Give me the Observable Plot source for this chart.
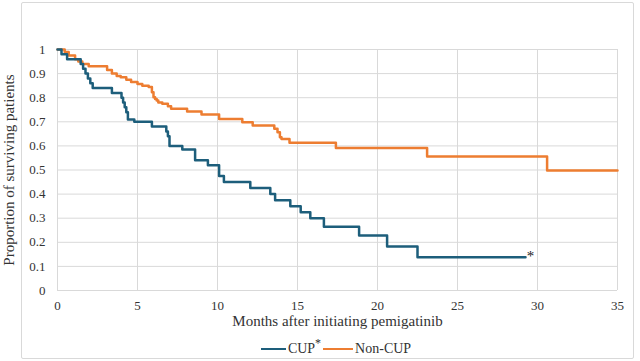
<!DOCTYPE html>
<html>
<head>
<meta charset="utf-8">
<script src="https://cdn.jsdelivr.net/npm/d3@7"></script>
<script src="https://cdn.jsdelivr.net/npm/@observablehq/plot@0.6"></script>
<style>
  html, body { margin: 0; padding: 0; background: #fff; }
  #wrap { position: relative; width: 640px; height: 361px; overflow: hidden; font-family: "Liberation Serif", "Times New Roman", serif; }
  #chart svg, #chart svg text { font-family: "Liberation Serif", "Times New Roman", serif !important; }
  #frame { position: absolute; left: 21px; top: 2px; width: 611px; height: 355px; border: 1px solid #d9d9d9; border-radius: 2px; pointer-events: none; }
  #legend { position: absolute; left: 0; top: 336px; width: 640px; height: 25px; display: flex; align-items: center; justify-content: center; padding-left: 34px; box-sizing: border-box; font-size: 14px; color: #333; }
  .sw { display: inline-block; width: 25px; height: 0; border-top: 2.5px solid; margin-right: 2px; }
  .item { display: inline-flex; align-items: center; margin-right: 2px; }
  sup { font-size: 12px; line-height: 0; }
</style>
</head>
<body>
<div id="wrap">
  <div id="chart"></div>
  <div id="legend"></div>
  <div id="frame"></div>
</div>
<script>
// CUP (Kaplan–Meier steps): time in months and survival proportion
const cupTime = [0, 0.25, 0.6, 1.45, 1.6, 1.75, 1.9, 2.05, 2.2, 3.4, 4.0, 4.1, 4.2, 4.3, 4.4, 4.8, 5.9, 6.8, 6.9, 7.0, 7.8, 8.6, 9.4, 10.1, 10.4, 12.05, 13.3, 13.6, 14.55, 15.2, 15.8, 16.65, 18.85, 20.6, 22.5, 29.25];
const cupSurv = [1.0, 0.98, 0.96, 0.94, 0.92, 0.90, 0.88, 0.86, 0.84, 0.82, 0.80, 0.78, 0.76, 0.74, 0.71, 0.70, 0.68, 0.66, 0.64, 0.60, 0.585, 0.54, 0.52, 0.475, 0.45, 0.425, 0.40, 0.375, 0.35, 0.325, 0.30, 0.265, 0.228, 0.183, 0.138, 0.138];

// Non-CUP
const nonCupTime = [0, 0.45, 0.7, 1.1, 1.3, 1.55, 1.95, 3.1, 3.4, 3.7, 3.95, 4.3, 4.6, 5.0, 5.3, 5.7, 5.9, 6.0, 6.1, 6.2, 6.3, 6.55, 6.9, 7.1, 8.1, 9.0, 10.1, 11.55, 12.2, 13.55, 13.75, 13.9, 14.0, 14.5, 17.4, 23.1, 30.6, 35];
const nonCupSurv = [1.0, 0.99, 0.975, 0.96, 0.95, 0.94, 0.93, 0.915, 0.90, 0.89, 0.885, 0.875, 0.865, 0.857, 0.85, 0.844, 0.823, 0.802, 0.795, 0.788, 0.78, 0.775, 0.765, 0.754, 0.743, 0.73, 0.712, 0.698, 0.685, 0.671, 0.657, 0.636, 0.629, 0.613, 0.591, 0.556, 0.498, 0.498];

const seriesNames = ["CUP", "Non-CUP"];
const seriesColors = ["#1d5e7b", "#ed7d31"];
const xTicks = [0, 5, 10, 15, 20, 25, 30, 35];
const yTicks = [0, 0.1, 0.2, 0.3, 0.4, 0.5, 0.6, 0.7, 0.8, 0.9, 1];
const xTitle = "Months after initiating pemigatinib";
const yTitle = "Proportion of surviving patients";

const cup = cupTime.map((t, i) => ({t, s: cupSurv[i]}));
const nonCup = nonCupTime.map((t, i) => ({t, s: nonCupSurv[i]}));
const cupEnd = cup[cup.length - 1];

const chart = Plot.plot({
  width: 640,
  height: 336,
  marginLeft: 57,
  marginRight: 23,
  marginTop: 49,
  marginBottom: 46,
  style: { fontFamily: "'Liberation Serif', 'Times New Roman', serif", fontSize: "13px", color: "#333", background: "transparent" },
  x: { domain: [0, 35] },
  y: { domain: [0, 1] },
  marks: [
    Plot.gridX(xTicks, { stroke: "#d9d9d9", strokeOpacity: 1 }),
    Plot.gridY(yTicks, { stroke: "#d9d9d9", strokeOpacity: 1 }),
    Plot.axisX(xTicks, { tickSize: 0, tickPadding: 10, label: null, fontSize: 13 }),
    Plot.axisY(yTicks, { tickSize: 0, tickPadding: 12, label: null, fontSize: 13, tickFormat: d => String(+d.toFixed(1)) }),
    Plot.text([xTitle], { frameAnchor: "bottom", textAnchor: "middle", dy: 35, fontSize: 15 }),
    Plot.text([yTitle], { frameAnchor: "left", textAnchor: "middle", rotate: -90, dx: -48, fontSize: 15 }),
    Plot.line(nonCup, { x: "t", y: "s", curve: "step-after", stroke: seriesColors[1], strokeWidth: 2.5 }),
    Plot.line(cup, { x: "t", y: "s", curve: "step-after", stroke: seriesColors[0], strokeWidth: 2.5 }),
    Plot.text([cupEnd], { x: "t", y: "s", text: () => "*", dx: 5, dy: -1, fontSize: 15, fill: "#222" })
  ]
});
document.getElementById("chart").appendChild(chart);

const legend = document.getElementById("legend");
seriesNames.forEach((name, i) => {
  const item = document.createElement("span");
  item.className = "item";
  const sw = document.createElement("span");
  sw.className = "sw";
  sw.style.borderTopColor = seriesColors[i];
  if (i === 1) sw.style.width = "30px";
  item.appendChild(sw);
  const label = document.createElement("span");
  label.textContent = name;
  if (i === 0) {
    const s = document.createElement("sup");
    s.textContent = "*";
    label.appendChild(s);
  }
  item.appendChild(label);
  legend.appendChild(item);
});
</script>
</body>
</html>
